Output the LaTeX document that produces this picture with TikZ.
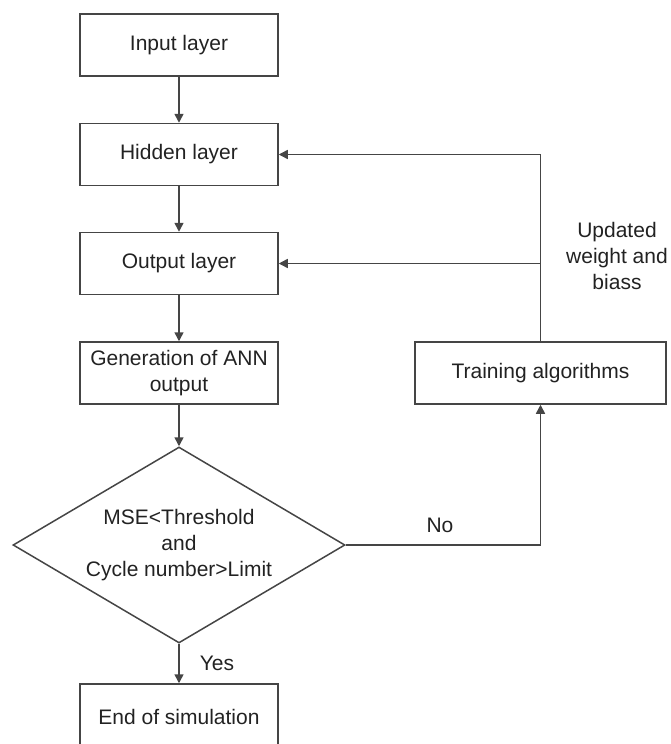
\documentclass[tikz,border=0pt]{standalone}
\usepackage{fontspec}
\setmainfont{Liberation Sans}
\usetikzlibrary{shapes.geometric,arrows.meta}
\definecolor{linegray}{HTML}{454545}
\definecolor{textgray}{HTML}{222222}
\begin{document}
\begin{tikzpicture}[x=0.5pt,y=-0.5pt,
  font=\fontsize{10.5pt}{13pt}\selectfont,
  every node/.style={text=textgray},
  flowbox/.style={draw=linegray,line width=0.75pt,rectangle,minimum width=99pt,minimum height=31pt,align=center,inner sep=1pt},
  decision/.style={draw=linegray,line width=0.75pt,diamond,aspect=1.69,minimum width=166pt,minimum height=98pt,inner sep=0pt,align=center},
  flow/.style={draw=linegray,line width=0.75pt,-{Triangle[length=4.5pt,width=4.5pt]}},
  plain/.style={draw=linegray,line width=0.75pt}]
\useasboundingbox (0,0) rectangle (670,744);

% main column
\node[flowbox] (input)  at (179,45)  {Input layer};
\node[flowbox] (hidden) at (179,154.5) {Hidden layer};
\node[flowbox] (output) at (179,263.5) {Output layer};
\node[flowbox] (gen)    at (179,373) {Generation of ANN\\output};
\node[decision] (test)  at (179,545) {MSE<Threshold\\and\\Cycle number>Limit};
\node[flowbox,minimum height=33pt] (finish) at (179,717) {End of simulation};

% feedback branch
\node[flowbox,minimum width=125.5pt] (train) at (540.5,373) {Training algorithms};
\coordinate (corner) at (540.5,545);
\coordinate (tophidden) at (540.5,154.5);
\coordinate (topoutput) at (540.5,263.5);

\draw[flow] (input) -- (hidden);
\draw[flow] (hidden) -- (output);
\draw[flow] (output) -- (gen);
\draw[flow] (gen) -- (test);
\draw[flow] (test) -- (finish);
\draw[flow] (test.east) -- (corner) -- (train.south);
\draw[plain] (train.north) -- (tophidden);
\draw[flow] (tophidden) -- (hidden.east);
\draw[flow] (topoutput) -- (output.east);

% labels
\node (yes) at (217,663) {Yes};
\node (no) at (440,525) {No};
\node[align=center] (upd) at (617,256) {Updated\\weight and\\biass};
\end{tikzpicture}
\end{document}
